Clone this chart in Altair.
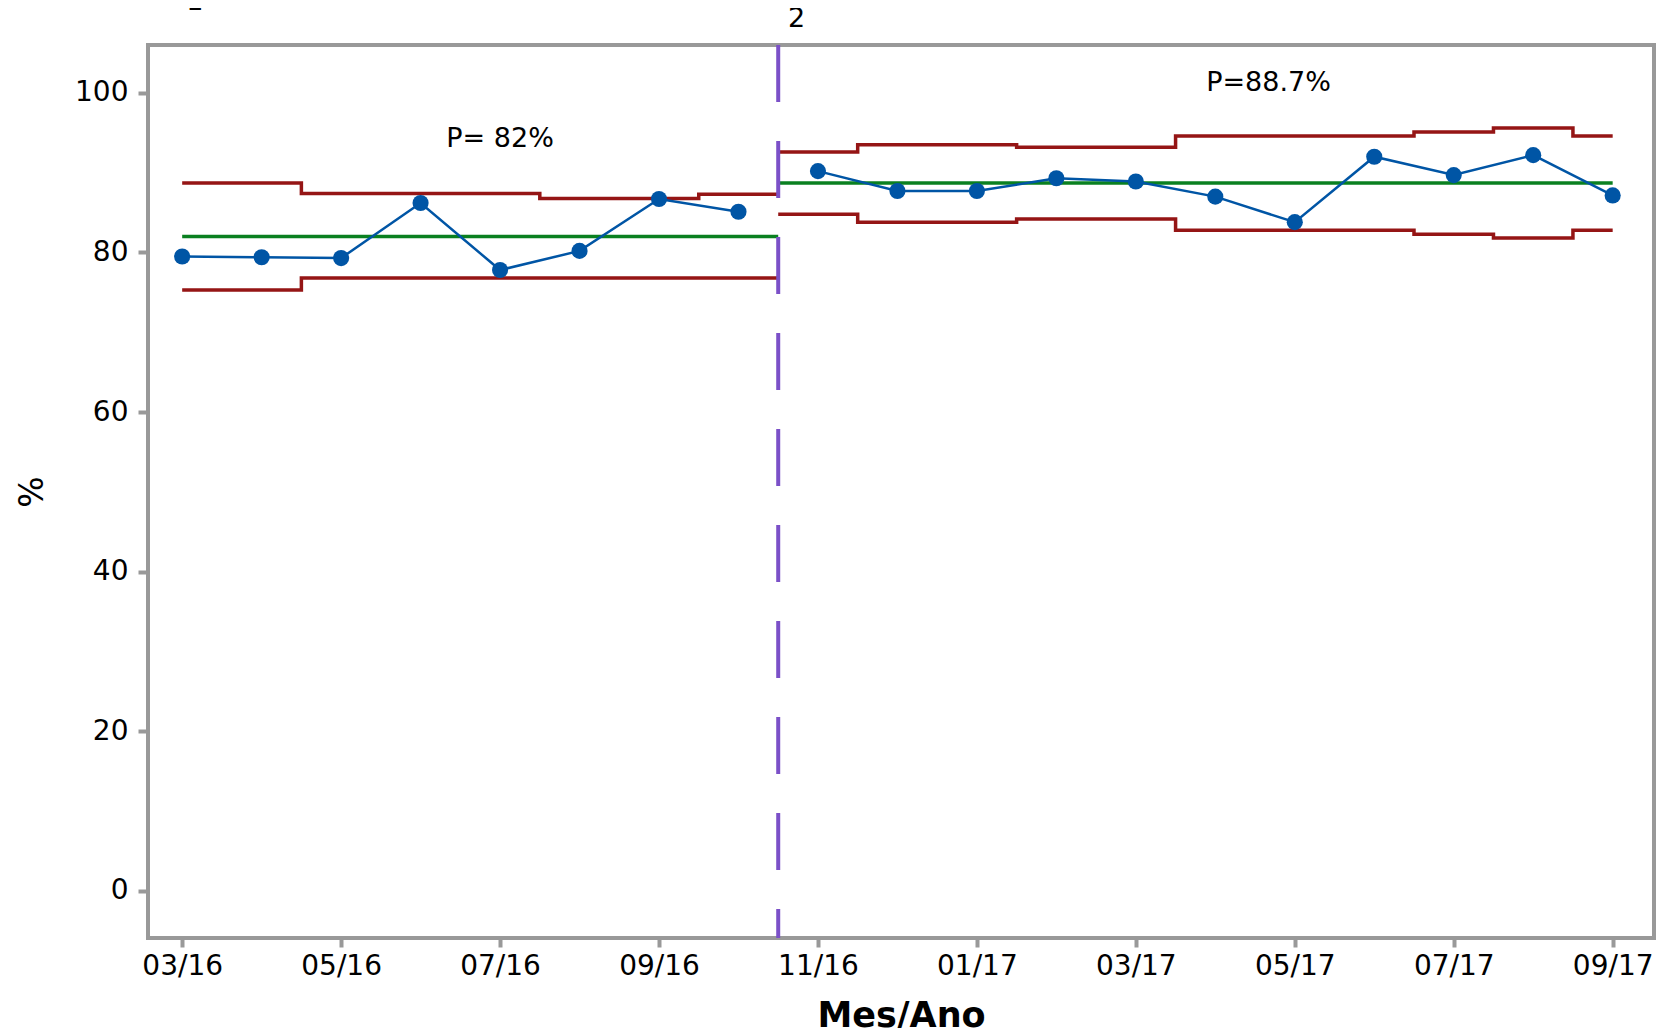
import altair as alt
import pandas as pd

# ---- data ----
month_labels = ["03/16", "04/16", "05/16", "06/16", "07/16", "08/16", "09/16", "10/16",
                "11/16", "12/16", "01/17", "02/17", "03/17", "04/17", "05/17", "06/17",
                "07/17", "08/17", "09/17"]
phase = [1] * 8 + [2] * 11
pct = [79.5, 79.4, 79.3, 86.2, 77.8, 80.2, 86.7, 85.1,
       90.2, 87.7, 87.7, 89.3, 88.9, 87.0, 83.8, 92.0, 89.7, 92.2, 87.15]

# control-limit steps per phase: step start positions (month index), end, values
lim_phase = [1, 1, 1, 1, 1, 2, 2, 2, 2, 2, 2, 2, 2]
lim_x = [0, 1.5, 4.5, 6.5, 7.5, 7.5, 8.5, 10.5, 12.5, 15.5, 16.5, 17.5, 18]
ucl = [88.7, 87.4, 86.75, 87.3, 87.3, 92.6, 93.5, 93.2, 94.6, 95.1, 95.6, 94.6, 94.6]
lcl = [75.3, 76.8, 76.8, 76.8, 76.8, 84.8, 83.8, 84.2, 82.8, 82.3, 81.8, 82.8, 82.8]

cl_start = [0, 7.5]
cl_end = [7.5, 18]
cl = [82.0, 88.7]

phase_split = [7.5]

ann_text = ["P= 82%", "P=88.7%"]
ann_x = [4.0, 13.67]
ann_y = [94.2, 101.2]

top_text = ["1", "2"]
top_x = [0.16, 7.73]
top_y = [109.6, 107.5]

# ---- tables ----
pts = pd.DataFrame({"m": list(range(len(pct))), "pct": pct, "phase": phase})
lim = pd.DataFrame({"x": lim_x, "ucl": ucl, "lcl": lcl, "phase": lim_phase})
cen = pd.DataFrame({"s": cl_start, "e": cl_end, "cl": cl})
split = pd.DataFrame({"m": phase_split})
ann = pd.DataFrame({"t": ann_text, "x": ann_x, "y": ann_y})
top = pd.DataFrame({"t": top_text, "x": top_x, "y": top_y})

label_arr = "[" + ",".join("'" + s + "'" for s in month_labels) + "]"

xscale = alt.Scale(domain=[-0.43, 18.52], nice=False, zero=False)
yscale = alt.Scale(domain=[-5.9, 106.0], nice=False, zero=False)

xaxis = alt.Axis(values=list(range(0, 19, 2)), labelExpr=label_arr + "[datum.value]",
                 title="Mes/Ano", titleFontSize=35, titleFontWeight="bold",
                 titleFont="DejaVu Sans", titleY=60, titleBaseline="top",
                 tickSize=9, labelPadding=5, labelFontSize=28)
yaxis = alt.Axis(values=[0, 20, 40, 60, 80, 100], title="%", titleFontSize=33,
                 titleFontWeight="normal", titleX=-116, titleBaseline="middle",
                 titleAngle=-90, tickSize=10, labelPadding=10, labelFontSize=28)

X = lambda f: alt.X(f, type="quantitative", scale=xscale, axis=xaxis)
Y = lambda f: alt.Y(f, type="quantitative", scale=yscale, axis=yaxis)

ucl_l = alt.Chart(lim).mark_line(color="#951515", strokeWidth=3.5,
                                 interpolate="step-after").encode(
    x=X("x"), y=Y("ucl"), detail="phase:N")
lcl_l = alt.Chart(lim).mark_line(color="#951515", strokeWidth=3.5,
                                 interpolate="step-after").encode(
    x=X("x"), y=Y("lcl"), detail="phase:N")
cen_l = alt.Chart(cen).mark_rule(color="#0A8020", strokeWidth=3.5).encode(
    x=X("s"), x2="e", y=Y("cl"))
split_l = alt.Chart(split).mark_rule(color="#7B50C8", strokeWidth=4,
                                     strokeDash=[57, 39]).encode(x=X("m"))
line = alt.Chart(pts).mark_line(color="#0055A5", strokeWidth=2.5).encode(
    x=X("m"), y=Y("pct"), detail="phase:N")
dots = alt.Chart(pts).mark_point(filled=True, shape="circle", size=260,
                                 color="#0055A5", opacity=1).encode(
    x=X("m"), y=Y("pct"))
ann_l = alt.Chart(ann).mark_text(fontSize=27, font="DejaVu Sans", color="black",
                                 align="center", baseline="middle").encode(
    x=X("x"), y=Y("y"), text="t:N")
top_l = alt.Chart(top).mark_text(fontSize=27, font="DejaVu Sans", color="black",
                                 align="center", baseline="bottom").encode(
    x=X("x"), y=Y("y"), text="t:N")

chart = alt.layer(ucl_l, lcl_l, cen_l, split_l, line, dots, ann_l, top_l).properties(
    width=1506, height=893,
    autosize=alt.AutoSizeParams(type="none"),
    padding={"left": 140, "top": 37, "right": 2, "bottom": 90},
    background="white",
).configure_view(stroke="#999999", strokeWidth=4).configure_axis(
    domain=False, grid=False, tickColor="#999999", tickWidth=4,
    labelColor="black", labelFont="DejaVu Sans", titleColor="black",
    titleFont="DejaVu Sans")

chart.save("out.html", embed_options={"renderer": "svg", "actions": False})
